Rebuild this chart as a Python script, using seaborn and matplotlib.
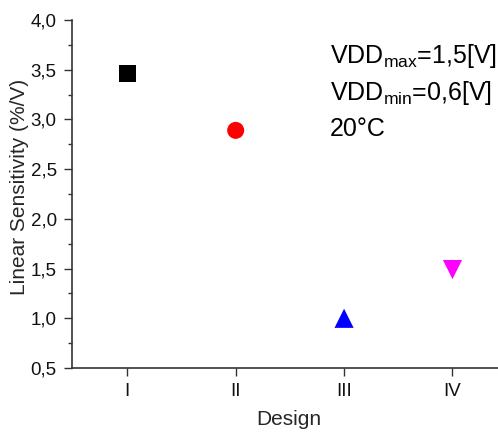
import matplotlib
matplotlib.use("Agg")
import matplotlib.pyplot as plt
import seaborn as sns
import pandas as pd
from matplotlib.ticker import MultipleLocator, FuncFormatter

designs = ["I", "II", "III", "IV"]
positions = [1, 2, 3, 4]
sensitivity = [3.46, 2.89, 1.00, 1.49]
colors = ["#000000", "#ff0000", "#0000ff", "#ff00ff"]
markers = ["s", "o", "^", "v"]
sizes = [150, 150, 190, 190]

df = pd.DataFrame({"Design": designs, "pos": positions, "sens": sensitivity})

sns.set_style("ticks")
plt.rcParams["font.family"] = ["Liberation Sans", "DejaVu Sans"]

fig = plt.figure(figsize=(4.98, 4.32), dpi=100)
ax = fig.add_axes([72 / 498, 1 - 368 / 432, 1 - 72 / 498, (368 - 20) / 432])

sns.scatterplot(
    data=df, x="pos", y="sens", hue="Design", style="Design",
    palette=dict(zip(designs, colors)), markers=dict(zip(designs, markers)),
    size="Design", sizes=dict(zip(designs, sizes)),
    edgecolor="none", linewidth=0, legend=False, ax=ax,
)

ax.set_xlim(0.49, 4.42)
ax.set_ylim(0.5, 4.0)
ax.set_xticks(positions)
ax.set_xticklabels(designs)
ax.yaxis.set_major_locator(MultipleLocator(0.5))
ax.yaxis.set_minor_locator(MultipleLocator(0.25))
ax.yaxis.set_major_formatter(FuncFormatter(lambda v, p: f"{v:.1f}".replace(".", ",")))

ax.set_xlabel("Design", fontsize=15)
ax.set_ylabel("Linear Sensitivity (%/V)", fontsize=15)
ax.xaxis.set_label_coords(0.51, -0.122)
ax.yaxis.set_label_coords(-0.101, 0.519)

for side in ["top", "right"]:
    ax.spines[side].set_visible(False)
for side in ["left", "bottom"]:
    ax.spines[side].set_color("#333333")
    ax.spines[side].set_linewidth(1.2)

ax.tick_params(axis="both", which="major", direction="out", length=6, width=1,
               color="#333333", labelsize=13.5, labelcolor="#111111")
ax.tick_params(axis="y", which="major", pad=5)
ax.tick_params(axis="x", which="major", pad=5)
ax.tick_params(axis="y", which="minor", direction="out", length=3, width=1, color="#333333")
ax.tick_params(axis="x", which="minor", length=0)

ax.text(330, 432 - 63, r"VDD$_{\mathregular{max}}$=1,5[V]", transform=None,
        fontsize=18, va="baseline", ha="left", color="#000000")
ax.text(330, 432 - 100, r"VDD$_{\mathregular{min}}$=0,6[V]", transform=None,
        fontsize=18, va="baseline", ha="left", color="#000000")
ax.text(330, 432 - 136, "20°C", transform=None,
        fontsize=18, va="baseline", ha="left", color="#000000")

fig.savefig("out.png", dpi=100)
